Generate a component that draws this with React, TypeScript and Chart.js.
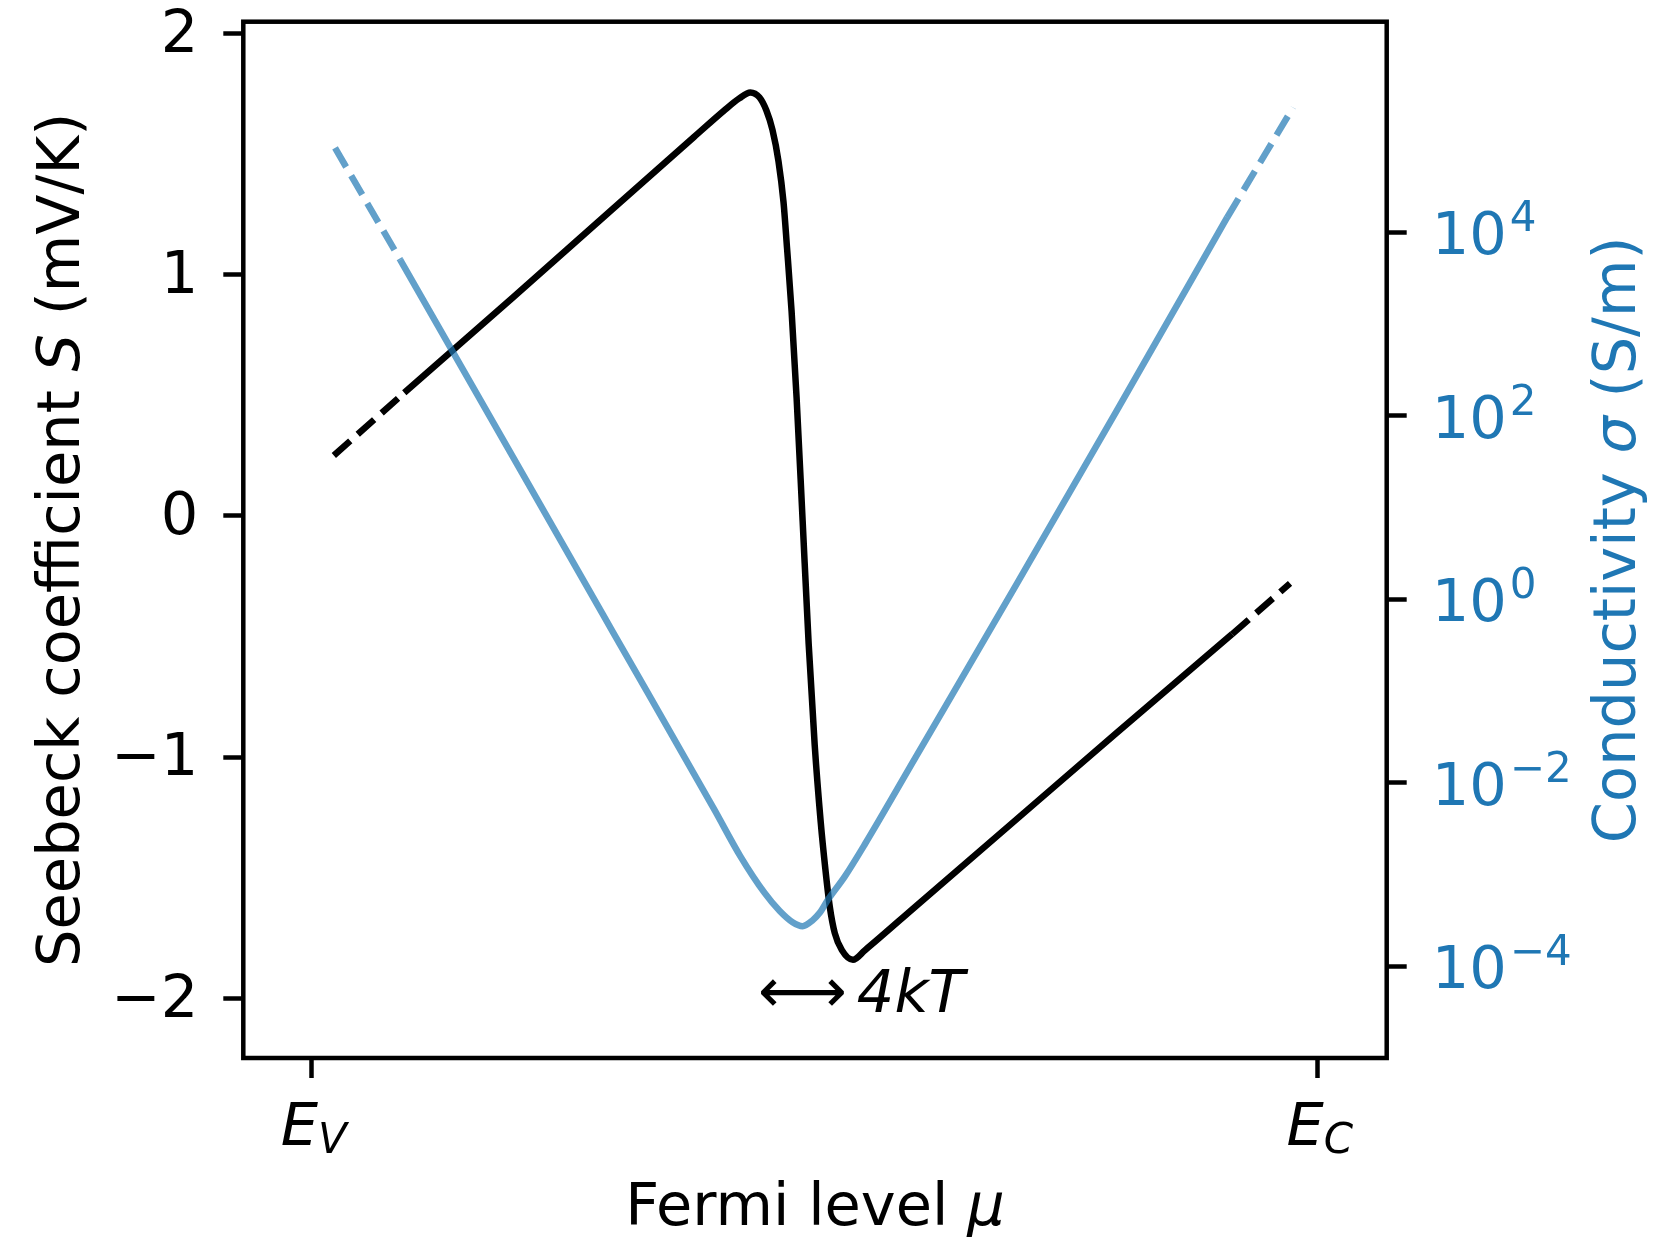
import React, { useEffect, useRef } from "react";
import { Chart, registerables } from "chart.js";

Chart.register(...registerables);

// ---- data ----
// Seebeck coefficient S (mV/K) vs Fermi level (E_V = 0, E_C = 1)
const muSeebeckDashL = [0.022, 0.092];
const seebeckDashL = [0.25, 0.51];
const muSeebeck = [
  0.092, 0.2, 0.3, 0.38, 0.41, 0.425, 0.436, 0.445, 0.452, 0.458, 0.464, 0.469,
  0.4725, 0.477, 0.482, 0.488, 0.494, 0.5, 0.506, 0.5105, 0.515, 0.52, 0.527,
  0.538, 0.55, 0.6, 0.7, 0.8, 0.915,
];
const seebeck = [
  0.51, 0.905, 1.275, 1.57, 1.68, 1.73, 1.755, 1.735, 1.68, 1.6, 1.47, 1.3,
  1.11, 0.85, 0.49, -0.02, -0.53, -0.95, -1.27, -1.46, -1.62, -1.73, -1.8,
  -1.84, -1.8, -1.62, -1.26, -0.9, -0.49,
];
const muSeebeckDashR = [0.915, 0.9725];
const seebeckDashR = [-0.49, -0.28];

// Conductivity sigma (S/m)
const muSigmaDashL = [0.0232, 0.088];
const sigmaDashL = [8.3e4, 5.0e3];
const muSigma = [
  0.088, 0.2, 0.3, 0.4, 0.426, 0.45, 0.465, 0.478, 0.488, 0.498, 0.505, 0.513,
  0.53, 0.55, 0.6, 0.7, 0.8, 0.91,
];
const sigma = [
  5.0e3, 35.5, 0.427, 5.13e-3, 1.58e-3, 6.3e-4, 4.0e-4, 3.0e-4, 2.72e-4,
  3.16e-4, 3.8e-4, 5.25e-4, 9.5e-4, 2.14e-3, 1.86e-2, 1.41, 112, 1.45e4,
];
const muSigmaDashR = [0.91, 0.9755];
const sigmaDashR = [1.45e4, 2.29e5];

// ticks
const xTickValues = [0, 1];
const xTickMain = ["E", "E"];
const xTickSub = ["V", "C"];
const seebeckTicks = [-2, -1, 0, 1, 2];
const sigmaTickExponents = [-4, -2, 0, 2, 4];

// annotation
const arrowMu = 0.4436;
const arrowS = -2;
const arrowText = "4kT";

const F = '"DejaVu Sans"';
const BLUE_TEXT = "#1f77b4";
const BLUE_LINE = "rgba(31,119,180,0.7)";
const LW = 6.5;
const DASH = [22, 10];

type Seg = { text: string; font: string; dy?: number; gap?: number };

function drawSegs(
  ctx: CanvasRenderingContext2D,
  segs: Seg[],
  x: number,
  y: number,
  align: "left" | "center"
) {
  let total = 0;
  const ws = segs.map((s) => {
    ctx.font = s.font;
    const w = ctx.measureText(s.text).width + (s.gap || 0);
    total += w;
    return w;
  });
  let cx = align === "center" ? x - total / 2 : x;
  ctx.textAlign = "left";
  ctx.textBaseline = "alphabetic";
  segs.forEach((s, i) => {
    ctx.font = s.font;
    ctx.fillText(s.text, cx + (s.gap || 0), y + (s.dy || 0));
    cx += ws[i];
  });
}

const pts = (xs: number[], ys: number[]) => xs.map((x, i) => ({ x, y: ys[i] }));

const zeroPad = (s: any) => {
  s.paddingTop = 0;
  s.paddingBottom = 0;
  s.paddingLeft = 0;
  s.paddingRight = 0;
};

const customPlugin = {
  id: "customDecor",
  afterDraw(chart: any) {
    const ctx: CanvasRenderingContext2D = chart.ctx;
    const { left, right, top, bottom } = chart.chartArea;
    const xs = chart.scales.x;
    const ys = chart.scales.y;
    const y2 = chart.scales.y2;
    ctx.save();
    // frame
    ctx.strokeStyle = "#000";
    ctx.lineWidth = 4.5;
    ctx.strokeRect(left, top, right - left, bottom - top);

    // x tick labels
    ctx.fillStyle = "#000";
    xTickValues.forEach((v, i) => {
      const px = xs.getPixelForValue(v);
      drawSegs(
        ctx,
        [
          { text: xTickMain[i], font: `italic 59px ${F}` },
          { text: xTickSub[i], font: `italic 42px ${F}`, dy: 8 },
        ],
        px + 2,
        bottom + 87,
        "center"
      );
    });

    // right tick labels
    ctx.fillStyle = BLUE_TEXT;
    sigmaTickExponents.forEach((e) => {
      const py = y2.getPixelForValue(Math.pow(10, e));
      const exp = e < 0 ? "\u2212" + Math.abs(e) : String(e);
      drawSegs(
        ctx,
        [
          { text: "10", font: `59px ${F}` },
          { text: exp, font: `42px ${F}`, dy: -23, gap: 3 },
        ],
        right + 45,
        py + 22,
        "left"
      );
    });

    // x title
    ctx.fillStyle = "#000";
    drawSegs(
      ctx,
      [
        { text: "Fermi level ", font: `59px ${F}` },
        { text: "\u03bc", font: `italic 59px ${F}` },
      ],
      (left + right) / 2,
      bottom + 167,
      "center"
    );

    // left title
    ctx.save();
    ctx.translate(left - 164, (top + bottom) / 2);
    ctx.rotate(-Math.PI / 2);
    drawSegs(
      ctx,
      [
        { text: "Seebeck coefficient ", font: `59px ${F}` },
        { text: "S", font: `italic 59px ${F}` },
        { text: " (mV/K)", font: `59px ${F}` },
      ],
      0,
      0,
      "center"
    );
    ctx.restore();

    // right title
    ctx.save();
    ctx.fillStyle = BLUE_TEXT;
    ctx.translate(right + 248, (top + bottom) / 2);
    ctx.rotate(-Math.PI / 2);
    drawSegs(
      ctx,
      [
        { text: "Conductivity ", font: `59px ${F}` },
        { text: "\u03c3", font: `italic 59px ${F}` },
        { text: " (S/m)", font: `59px ${F}` },
      ],
      0,
      0,
      "center"
    );
    ctx.restore();

    // 4kT annotation
    ctx.fillStyle = "#000";
    const ax = xs.getPixelForValue(arrowMu);
    const ay = ys.getPixelForValue(arrowS);
    drawSegs(
      ctx,
      [
        { text: "\u27f7", font: `62px ${F}` },
        { text: arrowText, font: `italic 59px ${F}`, gap: 10 },
      ],
      ax,
      ay + 14,
      "left"
    );
    ctx.restore();
  },
};

export default function App() {
  const ref = useRef<HTMLCanvasElement | null>(null);

  useEffect(() => {
    if (!ref.current) return;
    const tickGrid = {
      display: true,
      drawOnChartArea: false,
      drawTicks: true,
      tickLength: 20,
      tickWidth: 4.5,
      tickColor: "#000",
    };
    const lineBase = {
      pointRadius: 0,
      borderCapStyle: "butt",
      borderJoinStyle: "round",
      cubicInterpolationMode: "monotone",
      fill: false,
      borderWidth: LW,
    };
    const chart = new Chart(ref.current, {
      type: "line",
      data: {
        datasets: [
          { ...lineBase, data: pts(muSigmaDashL, sigmaDashL), yAxisID: "y2", borderColor: BLUE_LINE, borderDash: DASH, order: 0 },
          { ...lineBase, data: pts(muSigma, sigma), yAxisID: "y2", borderColor: BLUE_LINE, order: 0 },
          { ...lineBase, data: pts(muSigmaDashR, sigmaDashR), yAxisID: "y2", borderColor: BLUE_LINE, borderDash: DASH, order: 0 },
          { ...lineBase, data: pts(muSeebeckDashL, seebeckDashL), yAxisID: "y", borderColor: "#000", borderDash: DASH, order: 1 },
          { ...lineBase, data: pts(muSeebeck, seebeck), yAxisID: "y", borderColor: "#000", order: 1 },
          { ...lineBase, data: pts(muSeebeckDashR, seebeckDashR), yAxisID: "y", borderColor: "#000", borderDash: DASH, order: 1 },
        ] as any,
      },
      options: {
        responsive: false,
        maintainAspectRatio: false,
        animation: false,
        devicePixelRatio: 1,
        events: [],
        layout: { padding: { top: 21.7, left: 0, right: 0, bottom: 0 } },
        plugins: { legend: { display: false }, tooltip: { enabled: false } },
        scales: {
          x: {
            type: "linear",
            min: -0.068,
            max: 1.0686,
            afterBuildTicks: (s: any) => {
              s.ticks = xTickValues.map((v) => ({ value: v }));
            },
            afterFit: (s: any) => {
              s.height = 182;
              zeroPad(s);
            },
            ticks: { display: false },
            grid: tickGrid,
            border: { display: false },
          },
          y: {
            type: "linear",
            position: "left",
            min: -2.247,
            max: 2.048,
            afterBuildTicks: (s: any) => {
              s.ticks = seebeckTicks.map((v) => ({ value: v }));
            },
            afterFit: (s: any) => {
              s.width = 243.3;
              zeroPad(s);
            },
            ticks: {
              padding: 25,
              labelOffset: 3,
              color: "#000",
              font: { family: "DejaVu Sans", size: 59 },
              callback: (v: any) => (v < 0 ? "\u2212" + Math.abs(v) : String(v)),
            },
            grid: tickGrid,
            border: { display: false },
          },
          y2: {
            type: "logarithmic",
            position: "right",
            min: Math.pow(10, -5.003),
            max: Math.pow(10, 6.296),
            afterBuildTicks: (s: any) => {
              s.ticks = sigmaTickExponents.map((e) => ({ value: Math.pow(10, e) }));
            },
            afterFit: (s: any) => {
              s.width = 1670 - 1386.7;
              zeroPad(s);
            },
            ticks: { display: false },
            grid: tickGrid,
            border: { display: false },
          },
        },
      } as any,
      plugins: [customPlugin],
    });
    return () => chart.destroy();
  }, []);

  return (
    <div style={{ position: "absolute", left: 0, top: 0, width: 1670, height: 1240, background: "#fff" }}>
      <canvas ref={ref} width={1670} height={1240} style={{ display: "block" }} />
    </div>
  );
}
